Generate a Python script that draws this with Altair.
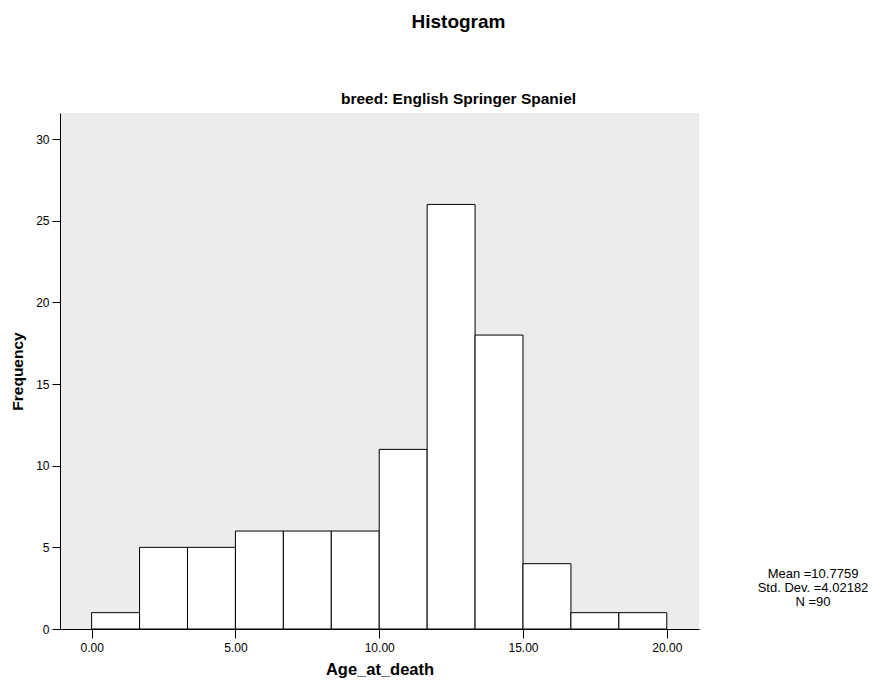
import altair as alt
import pandas as pd

bin_start = [0.0, 1.6667, 3.3333, 5.0, 6.6667, 8.3333, 10.0, 11.6667, 13.3333, 15.0, 16.6667, 18.3333]
bin_end = [1.6667, 3.3333, 5.0, 6.6667, 8.3333, 10.0, 11.6667, 13.3333, 15.0, 16.6667, 18.3333, 20.0]
counts = [1, 5, 5, 6, 6, 6, 11, 26, 18, 4, 1, 1]

x_ticks = [0, 5, 10, 15, 20]
y_ticks = [0, 5, 10, 15, 20, 25, 30]

stat_labels = ["Mean =10.7759", "Std. Dev. =4.02182", "N =90"]

df = pd.DataFrame({"start": bin_start, "end": bin_end, "count": counts})
stats_df = pd.DataFrame({"txt": [stat_labels]})

FONT = "Liberation Sans"

bars = alt.Chart(df).mark_rect(fill="white", stroke="black", strokeWidth=1).encode(
    x=alt.X("start:Q",
            scale=alt.Scale(domain=[-1.1, 21.12], nice=False, zero=False),
            axis=alt.Axis(values=x_ticks, format=".2f", title="Age_at_death",
                          grid=False, domainColor="black", tickColor="black",
                          tickSize=9, labelPadding=4, labelFontSize=12,
                          titleFontSize=16.5, titlePadding=8, labelFont=FONT,
                          titleFont=FONT, labelColor="black", titleColor="black")),
    x2="end:Q",
    y=alt.Y("count:Q",
            scale=alt.Scale(domain=[0, 31.6], nice=False),
            axis=alt.Axis(values=y_ticks, format="d", title="Frequency",
                          grid=False, domainColor="black", tickColor="black",
                          tickSize=8, labelPadding=3, labelFontSize=12,
                          titleFontSize=15.5, titlePadding=10, labelFont=FONT,
                          titleFont=FONT, labelColor="black", titleColor="black")),
    y2=alt.datum(0),
)

stats = alt.Chart(stats_df).mark_text(
    align="center", baseline="top", fontSize=13, font=FONT, color="black", lineHeight=14
).encode(
    text="txt",
    x=alt.value(753),
    y=alt.value(455),
)

chart = alt.layer(bars, stats).properties(
    width=639,
    height=516,
    autosize=alt.AutoSizeParams(type="none"),
    padding={"left": 52, "top": 105, "right": 173, "bottom": 49},
    title=alt.TitleParams(
        text="Histogram",
        subtitle="breed: English Springer Spaniel",
        anchor="middle",
        dx=79,
        fontSize=19,
        font=FONT,
        fontWeight="bold",
        color="black",
        subtitleFont=FONT,
        subtitleFontSize=15.5,
        subtitleFontWeight="bold",
        subtitleColor="black",
        subtitlePadding=60,
        offset=6,
    ),
).configure_view(fill="#ececec", stroke=None)

chart.save("out.html", embed_options={"renderer": "svg", "actions": False})
